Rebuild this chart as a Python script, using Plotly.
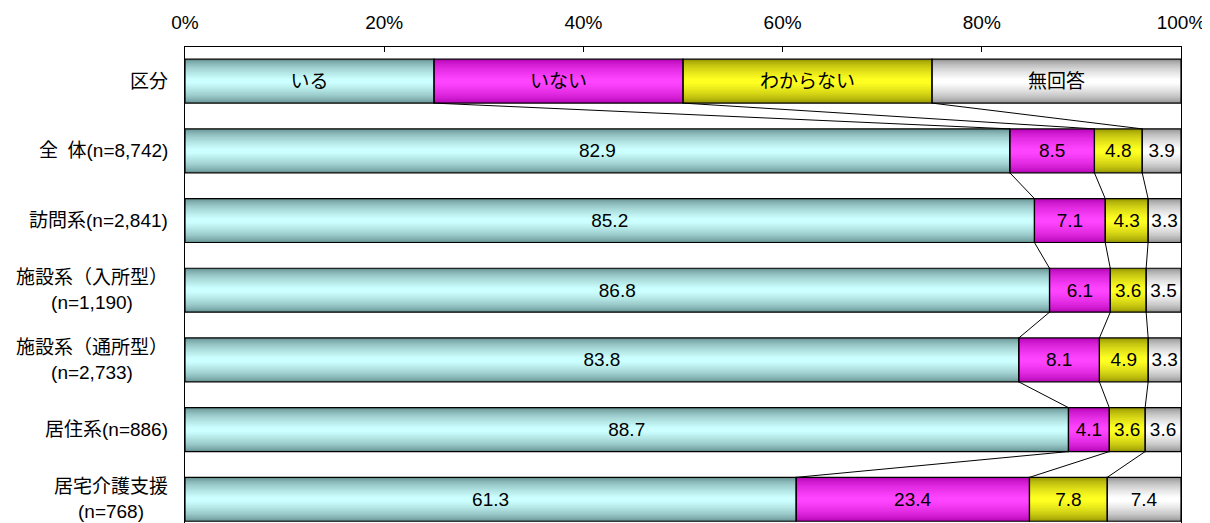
import plotly.graph_objects as go

# 回答区分
series_names = ["いる", "いない", "わからない", "無回答"]

# 行ラベル（先頭は凡例用の「区分」行）
row_labels = [
    "区分",
    "全\u2002体(n=8,742)",
    "訪問系(n=2,841)",
    "施設系（入所型）<br>(n=1,190)",
    "施設系（通所型）<br>(n=2,733)",
    "居住系(n=886)",
    "居宅介護支援<br>(n=768)",
]

# 各行の値（%）
iru = [25, 82.9, 85.2, 86.8, 83.8, 88.7, 61.3]
inai = [25, 8.5, 7.1, 6.1, 8.1, 4.1, 23.4]
wakaranai = [25, 4.8, 4.3, 3.6, 4.9, 3.6, 7.8]
mukaito = [25, 3.9, 3.3, 3.5, 3.3, 3.6, 7.4]

x_ticks = [0, 20, 40, 60, 80, 100]

FONT = "Liberation Sans, Arial, Noto Sans CJK JP, sans-serif"
BAR_W = 0.63

# 縁色 -> 中心色（グラデーション風）
palette = [
    ("#5f8a8a", "#ccffff"),
    ("#b000b0", "#ff44ff"),
    ("#8f8f00", "#ffff22"),
    ("#8a8a8a", "#ffffff"),
]


def _mix(c1, c2, t):
    a = [int(c1[i:i + 2], 16) for i in (1, 3, 5)]
    b = [int(c2[i:i + 2], 16) for i in (1, 3, 5)]
    return "#" + "".join(f"{round(a[k] + (b[k] - a[k]) * t):02x}" for k in range(3))


raw = [iru, inai, wakaranai, mukaito]
rows = list(range(len(row_labels)))
totals = [sum(s[i] for s in raw) for i in rows]
norm = [[s[i] / totals[i] * 100 for i in rows] for s in raw]

bases = []
acc = [0.0] * len(rows)
for s in norm:
    bases.append(acc[:])
    acc = [acc[i] + s[i] for i in rows]

fig = go.Figure()

n_layers = 22
for k, s in enumerate(norm):
    edge, center = palette[k]
    for j in range(n_layers):
        t = j / (n_layers - 1)
        w = BAR_W * (1 - 0.9 * t)
        fig.add_trace(
            go.Bar(
                y=rows,
                x=s,
                base=bases[k],
                orientation="h",
                width=w,
                marker={"color": _mix(edge, center, t ** 0.6), "line": {"width": 0}},
                showlegend=False,
                hoverinfo="skip",
            )
        )

# 枠線と数値ラベル
for k, s in enumerate(norm):
    texts = [series_names[k]] + [f"{v:.1f}" for v in raw[k][1:]]
    fig.add_trace(
        go.Bar(
            y=rows,
            x=s,
            base=bases[k],
            orientation="h",
            width=BAR_W,
            marker={"color": "rgba(0,0,0,0)", "line": {"color": "#000000", "width": 1.2}},
            text=texts,
            textposition="inside",
            insidetextanchor="middle",
            constraintext="none",
            textfont={"color": "#000000", "size": 19, "family": FONT},
            name=series_names[k],
            showlegend=False,
        )
    )

# 区分線
half = BAR_W / 2
for k in range(3):
    b = [bases[k + 1][i] for i in rows]
    xs, ys = [], []
    for i in rows[:-1]:
        xs += [b[i], b[i + 1], None]
        ys += [i + half, i + 1 - half, None]
    fig.add_trace(
        go.Scatter(
            x=xs, y=ys, mode="lines",
            line={"color": "#000000", "width": 1},
            showlegend=False, hoverinfo="skip",
        )
    )

for i, lab in enumerate(row_labels):
    fig.add_annotation(
        x=0, xref="paper", y=i, yref="y",
        text=lab, showarrow=False,
        xanchor="right", align="center", xshift=-15,
        font={"size": 19, "color": "#000000", "family": FONT},
    )

fig.update_layout(
    width=1202,
    height=515,
    barmode="overlay",
    paper_bgcolor="#ffffff",
    plot_bgcolor="#ffffff",
    margin={"l": 177, "r": 29, "t": 39, "b": 0},
    font={"family": FONT, "size": 19, "color": "#000000"},
    xaxis={
        "side": "top",
        "range": [0, 100],
        "tickvals": x_ticks,
        "ticktext": [f"{v}%" for v in x_ticks],
        "ticks": "inside",
        "ticklen": 5,
        "tickcolor": "#000000",
        "showline": True,
        "linecolor": "#000000",
        "linewidth": 1,
        "showgrid": False,
        "zeroline": False,
        "ticklabelstandoff": 9,
    },
    yaxis={
        "range": [6.34, -0.49],
        "showticklabels": False,
        "ticks": "",
        "showline": True,
        "mirror": True,
        "linecolor": "#000000",
        "linewidth": 1,
        "showgrid": False,
        "zeroline": False,
    },
)

fig.write_html("out.html")
